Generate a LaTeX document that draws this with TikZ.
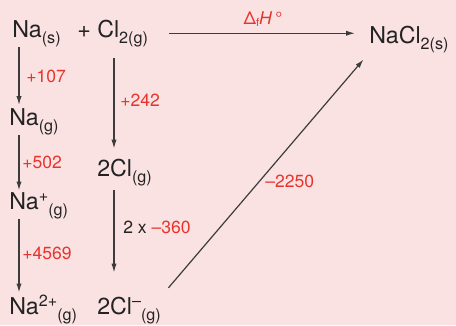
\documentclass[tikz,border=0pt]{standalone}
\usepackage{fontspec}
\setmainfont{TeX Gyre Heros}
\usetikzlibrary{arrows.meta,positioning}
\definecolor{bgPink}{RGB}{250,226,226}
\definecolor{inkGrey}{RGB}{35,35,35}
\definecolor{lineGrey}{RGB}{60,60,60}
\definecolor{valRed}{RGB}{232,52,45}
\newcommand\chsubfont{\fontsize{11.5}{12}\selectfont}
\newcommand\chsub[1]{\raisebox{-4.5pt}{\chsubfont #1}}
\newcommand\chsup[1]{\raisebox{5pt}{\chsubfont #1}}
\tikzset{
    species/.style={inner sep=0pt,anchor=base west,text=inkGrey,
        font=\fontsize{16.5}{18}\selectfont},
    val/.style={inner sep=0pt,anchor=west,text=valRed,font=\fontsize{12.5}{14}\selectfont},
    arr/.style={-{Latex[length=2.2mm,width=1.3mm]},draw=lineGrey,line width=0.3mm}
}

\begin{document}
\begin{tikzpicture}[x=0.025cm,y=-0.025cm]
    \fill[bgPink] (0,0) rectangle (456,325);
    \useasboundingbox (0,0) rectangle (456,325);
    \coordinate (naCol) at (19,0);
    \coordinate (clCol) at (114,0);

    % sodium column
    \node[species] (nas)  at (12,37)  {Na\chsub{(s)}};
    \node[species] (nag)  at (9,125)  {Na\chsub{(g)}};
    \node[species] (nap)  at (9,209)  {Na\chsup{+}\chsub{(g)}};
    \node[species] (na2p) at (9,314)  {Na\chsup{2+}\chsub{(g)}};

    % chlorine column
    \node[species] (plus) at (77,37)  {+};
    \node[species] (cl2)  at (97,37)  {Cl\chsub{2(g)}};
    \node[species] (cl)   at (97,176) {2Cl\chsub{(g)}};
    \node[species] (clm)  at (97,314) {2Cl\chsup{–}\chsub{(g)}};

    % product
    \node[species] (nacl) at (369,43) {NaCl\chsub{2(s)}};

    % enthalpy values
    \node[val] (v107)  at (26,76)   {+107};
    \node[val] (v502)  at (22,162)  {+502};
    \node[val] (v4569) at (22,253)  {+4569};
    \node[val] (v242)  at (120,100) {+242};
    \node[val] (v360)  at (123,227) {\textcolor{inkGrey}{2 x }–360};
    \node[val] (v2250) at (265,181) {–2250};
    \node[val,anchor=center] (dfh) at (263,19)
        {Δ\raisebox{-2pt}{\fontsize{8}{9}\selectfont f}\textit{H}\,°};

    \draw[arr,shorten >=2pt] (nas.south -| naCol) -- (nag.north -| naCol);
    \draw[arr,shorten >=1pt] (nag.south -| naCol) -- (nap.north -| naCol);
    \draw[arr,shorten >=2pt] (nap.south -| naCol) -- (na2p.north -| naCol);
    \draw[arr,shorten <=8pt,shorten >=7pt] (cl2.south -| clCol) -- (cl.north -| clCol);
    \draw[arr,shorten <=3pt,shorten >=17pt] (cl.south -| clCol) -- (clm.north -| clCol);
    \draw[arr,shorten <=15pt,shorten >=10pt] (cl2.east) -- (cl2.east -| nacl.west);
    \draw[arr,shorten <=8pt,shorten >=6pt] (clm.north east) -- (nacl.south west);
\end{tikzpicture}
\end{document}
